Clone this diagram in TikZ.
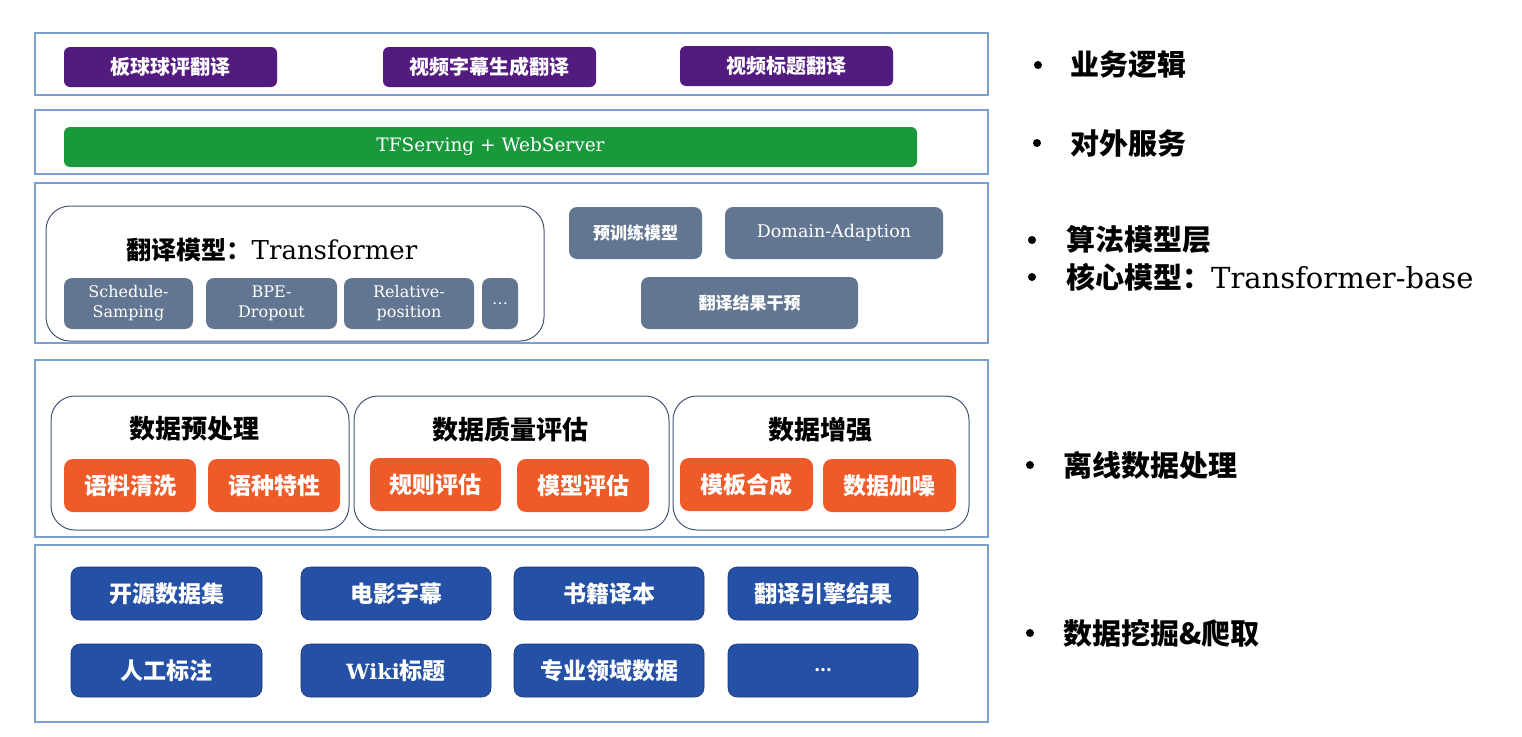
\documentclass[tikz,border=0pt]{standalone}
\usepackage{fontspec}
\setmainfont{DejaVu Serif}
\newfontfamily\cjk{Noto Sans CJK SC}
\definecolor{layerc}{RGB}{122,160,204}
\definecolor{purplec}{RGB}{83,27,128}
\definecolor{greenc}{RGB}{26,152,60}
\definecolor{slatec}{RGB}{98,118,145}
\definecolor{contc}{RGB}{68,84,120}
\definecolor{orangec}{RGB}{238,90,40}
\definecolor{bluec}{RGB}{36,80,165}
\newcommand\rbox[7]{\node[#2, minimum width={#5-#3}, minimum height={#6-#4}] (#1) at ({(#3+#5)/2},{(#4+#6)/2}) {#7};}
\begin{document}
\begin{tikzpicture}[x=1pt,y=-1pt,
  layer/.style={draw=layerc,line width=1.3pt,inner sep=0pt},
  cont/.style={draw=contc,line width=1pt,rounded corners=24pt,inner sep=0pt},
  pbox/.style={fill=purplec,rounded corners=6pt,text=white,inner sep=0pt,font={\cjk\bfseries\fontsize{20}{22}\selectfont}},
  gbox/.style={fill=greenc,rounded corners=6pt,text=white,inner sep=0pt,font={\fontsize{18.5}{21}\selectfont}},
  sbox/.style={fill=slatec,rounded corners=8pt,text=white,inner sep=0pt,align=center,font={\fontsize{16}{20}\selectfont}},
  sboxc/.style={fill=slatec,rounded corners=8pt,text=white,inner sep=0pt,font={\cjk\bfseries\fontsize{17}{20}\selectfont}},
  obox/.style={fill=orangec,rounded corners=9pt,text=white,inner sep=0pt,font={\cjk\bfseries\fontsize{23}{26}\selectfont}},
  bbox/.style={fill=bluec,draw=bluec!70!black,line width=0.6pt,rounded corners=9pt,text=white,inner sep=0pt,font={\cjk\bfseries\fontsize{23}{26}\selectfont}},
  ctitle/.style={inner sep=0pt,font={\cjk\bfseries\fontsize{26}{28}\selectfont}},
  rlabel/.style={anchor=west,inner sep=0pt,font={\cjk\bfseries\fontsize{29}{32}\selectfont}},
  bullet/.style={circle,fill=black,inner sep=0pt,minimum size=8pt}
]
\useasboundingbox (0,0) rectangle (1522,736);
% layers
\rbox{L1}{layer}{35}{33}{988}{95}{}
\rbox{L2}{layer}{35}{110}{988}{174}{}
\rbox{L3}{layer}{35}{183}{988}{343}{}
\rbox{L4}{layer}{35}{360}{988}{537}{}
\rbox{L5}{layer}{35}{545}{988}{722}{}
% business
\rbox{p1}{pbox}{64}{47}{277}{87}{板球球评翻译}
\rbox{p2}{pbox}{383}{47}{596}{87}{视频字幕生成翻译}
\rbox{p3}{pbox}{680}{46}{893}{86}{视频标题翻译}
% serving
\rbox{g}{gbox}{64}{127}{917}{167}{TFServing + WebServer}
% model layer
\rbox{tm}{cont}{46}{206}{544}{341}{}
\node[inner sep=0pt,font={\fontsize{26}{28}\selectfont}] (tmt) at (272,250) {{\cjk\bfseries\fontsize{25}{28}\selectfont 翻译模型：}Transformer};
\rbox{s1}{sbox}{64}{278}{193}{329}{Schedule-\\Samping}
\rbox{s2}{sbox}{206}{278}{337}{329}{BPE-\\Dropout}
\rbox{s3}{sbox}{344}{278}{474}{329}{Relative-\\position}
\rbox{s4}{sbox}{482}{278}{518}{329}{…}
\rbox{pre}{sboxc}{569}{207}{702}{259}{预训练模型}
\rbox{da}{sbox}{725}{207}{943}{259}{{\fontsize{17.5}{20}\selectfont Domain-Adaption}}
\rbox{gy}{sboxc}{641}{277}{858}{329}{翻译结果干预}
% data processing
\rbox{ca}{cont}{51}{396}{349}{530}{}
\rbox{cb}{cont}{354}{396}{669}{530}{}
\rbox{cc}{cont}{673}{396}{969}{530}{}
\node[ctitle] (ta) at (194,429) {数据预处理};
\node[ctitle] (tb) at (510,430) {数据质量评估};
\node[ctitle] (tc) at (820,430) {数据增强};
\rbox{o1}{obox}{64}{459}{196}{512}{语料清洗}
\rbox{o2}{obox}{208}{459}{340}{512}{语种特性}
\rbox{o3}{obox}{370}{458}{501}{511}{规则评估}
\rbox{o4}{obox}{517}{459}{649}{512}{模型评估}
\rbox{o5}{obox}{680}{458}{813}{511}{模板合成}
\rbox{o6}{obox}{823}{459}{956}{512}{数据加噪}
% data sources
\rbox{b1}{bbox}{71}{567}{262}{620}{开源数据集}
\rbox{b2}{bbox}{301}{567}{491}{620}{电影字幕}
\rbox{b3}{bbox}{514}{567}{704}{620}{书籍译本}
\rbox{b4}{bbox}{728}{567}{918}{620}{翻译引擎结果}
\rbox{b5}{bbox}{71}{644}{262}{697}{人工标注}
\rbox{b6}{bbox}{301}{644}{491}{697}{{\rmfamily\bfseries\fontsize{21}{24}\selectfont Wiki}标题}
\rbox{b7}{bbox}{514}{644}{704}{697}{专业领域数据}
\rbox{b8}{bbox}{728}{644}{918}{697}{{\rmfamily\fontsize{18}{20}\selectfont …}}
% right labels
\node[bullet] (d1) at (1038,65) {};
\node[rlabel] (r1) at (1070,65) {业务逻辑};
\node[bullet] (d2) at (1037,143) {};
\node[rlabel] (r2) at (1070,143) {对外服务};
\node[bullet] (d3) at (1032,240) {};
\node[rlabel] (r3) at (1066,240) {算法模型层};
\node[bullet] (d4) at (1032,277) {};
\node[rlabel] (r4) at (1066,277) {核心模型：{\rmfamily\mdseries\fontsize{29}{32}\selectfont Transformer-base}};
\node[bullet] (d5) at (1030,465) {};
\node[rlabel] (r5) at (1063,465) {离线数据处理};
\node[bullet] (d6) at (1030,633) {};
\node[rlabel] (r6) at (1063,633) {数据挖掘\&爬取};
\end{tikzpicture}
\end{document}
